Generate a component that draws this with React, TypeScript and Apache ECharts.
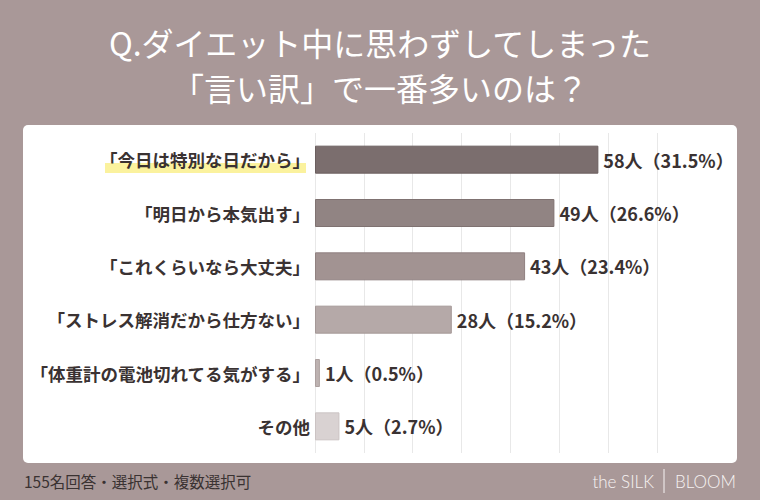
import React, { useEffect, useRef } from "react";
import * as echarts from "echarts";

const titleLines = ["Q.ダイエット中に思わずしてしまった", "「言い訳」で一番多いのは？"];
const categories = [
  "「今日は特別な日だから」",
  "「明日から本気出す」",
  "「これくらいなら大丈夫」",
  "「ストレス解消だから仕方ない」",
  "「体重計の電池切れてる気がする」",
  "その他",
];
const counts = [58, 49, 43, 28, 1, 5];
const percents = [31.5, 26.6, 23.4, 15.2, 0.5, 2.7];
const barColors = ["#7b6e6e", "#918483", "#a29392", "#b5a9a8", "#bdb2b1", "#d9d2d2"];
const borderColors = ["#6b5f5f", "#7f7271", "#908180", "#a49897", "#aca09f", "#cbc3c3"];
const axisMax = 70;
const axisInterval = 10;
const footnote = "155名回答・選択式・複数選択可";
const brandLeft = "the SILK";
const brandRight = "BLOOM";

const JP = "'Noto Sans CJK JP', 'Noto Sans', sans-serif";

export default function App() {
  const ref = useRef<HTMLDivElement>(null);
  useEffect(() => {
    if (!ref.current) return;
    const chart = echarts.init(ref.current, undefined, { renderer: "svg" });
    chart.setOption({
      animation: false,
      backgroundColor: "#a99898",
      title: {
        text: titleLines.join("\n"),
        left: "center",
        top: 14,
        textStyle: {
          color: "#ffffff",
          fontSize: 32,
          fontWeight: "normal",
          lineHeight: 45,
          fontFamily: JP,
        },
      },
      grid: { left: 315, right: 103, top: 133, bottom: 47, containLabel: false },
      xAxis: {
        type: "value",
        min: 0,
        max: axisMax,
        interval: axisInterval,
        axisLabel: { show: false },
        axisLine: { show: false },
        axisTick: { show: false },
        splitLine: { show: true, lineStyle: { color: "#e8e8e8", width: 1 } },
      },
      yAxis: {
        type: "category",
        data: categories,
        inverse: true,
        axisLine: { show: false },
        axisTick: { show: false },
        axisLabel: {
          color: "#3a3232",
          fontSize: 17.5,
          fontWeight: "bold",
          fontFamily: JP,
          margin: 5,
        },
      },
      series: [
        {
          type: "bar",
          barWidth: 28,
          data: counts.map((v, i) => ({
            value: v,
            itemStyle: { color: barColors[i], borderColor: borderColors[i], borderWidth: 1 },
          })),
          label: {
            show: true,
            position: "right",
            distance: 5,
            color: "#3a3232",
            fontSize: 18,
            fontWeight: "bold",
            fontFamily: JP,
            formatter: (p: any) => `${counts[p.dataIndex]}人（${percents[p.dataIndex]}%）`,
          },
        },
      ],
      graphic: [
        {
          type: "rect",
          z: -10,
          shape: { x: 23, y: 125, width: 714, height: 338, r: 5 },
          style: { fill: "#ffffff" },
        },
        {
          type: "rect",
          z: -5,
          shape: { x: 105, y: 163, width: 201, height: 10 },
          style: { fill: "#fbf29e" },
        },
        {
          type: "text",
          x: 24,
          y: 481,
          style: {
            text: footnote,
            fill: "#3a3232",
            fontSize: 15.5,
            fontFamily: JP,
            verticalAlign: "middle",
            textAlign: "left",
          },
        },
        {
          type: "text",
          x: 654,
          y: 481,
          style: {
            text: brandLeft,
            fill: "#f7f3f3",
            fontSize: 17,
            fontWeight: 300,
            fontFamily: "Lato, 'Noto Sans', sans-serif",
            verticalAlign: "middle",
            textAlign: "right",
          },
        },
        {
          type: "line",
          shape: { x1: 664, y1: 469, x2: 664, y2: 493 },
          style: { stroke: "#f7f3f3", lineWidth: 1 },
        },
        {
          type: "text",
          x: 675,
          y: 481,
          style: {
            text: brandRight,
            fill: "#f7f3f3",
            fontSize: 17,
            fontWeight: 300,
            fontFamily: "Lato, 'Noto Sans', sans-serif",
            verticalAlign: "middle",
            textAlign: "left",
          },
        },
      ],
    });
    return () => chart.dispose();
  }, []);
  return (
    <div
      ref={ref}
      style={{ position: "fixed", left: 0, top: 0, width: 760, height: 500 }}
    />
  );
}
